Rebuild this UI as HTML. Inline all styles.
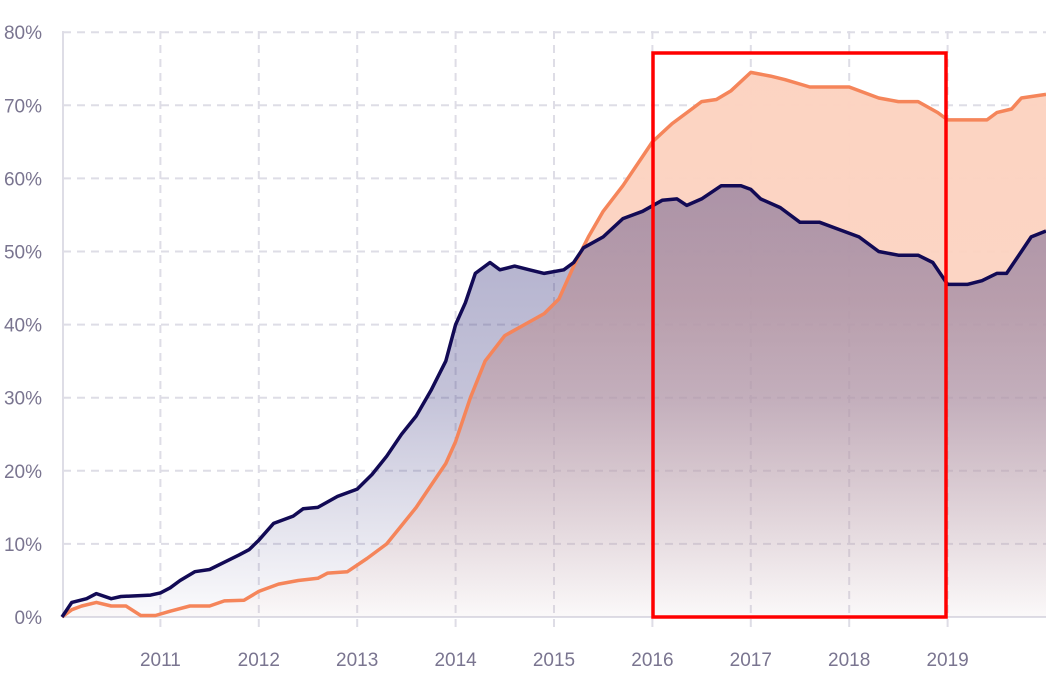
<!DOCTYPE html>
<html><head><meta charset="utf-8"><style>
html,body{margin:0;padding:0;background:#fff;width:1046px;height:691px;overflow:hidden}
svg text{font-family:"Liberation Sans",sans-serif;fill:#7a7590;font-size:19px}
</style></head><body>
<svg id="chart" width="1046" height="691" xmlns="http://www.w3.org/2000/svg">
<defs>
<linearGradient id="gOr" gradientUnits="userSpaceOnUse" x1="0" y1="40" x2="0" y2="617">
<stop offset="0" stop-color="#fcd3c1" stop-opacity="1"/><stop offset="0.45" stop-color="#fcd3c1" stop-opacity="0.95"/><stop offset="1" stop-color="#fcd3c1" stop-opacity="0.05"/></linearGradient>
<linearGradient id="gNv" gradientUnits="userSpaceOnUse" x1="0" y1="180" x2="0" y2="617">
<stop offset="0" stop-color="#3c3880" stop-opacity="0.42"/><stop offset="0.5" stop-color="#3c3880" stop-opacity="0.3"/><stop offset="1" stop-color="#3c3880" stop-opacity="0.02"/></linearGradient>
</defs>
<g id="grid"></g>
<g id="series"></g>
<rect x="653" y="53" width="293" height="564" fill="none" stroke="#ff0000" stroke-width="3.5"/>
</svg>
<script>
const navyX=[2010.0,2010.05,2010.1,2010.25,2010.35,2010.5,2010.6,2010.9,2011.0,2011.1,2011.2,2011.35,2011.5,2011.65,2011.8,2011.9,2012.0,2012.15,2012.35,2012.45,2012.6,2012.8,2013.0,2013.15,2013.3,2013.45,2013.6,2013.75,2013.9,2014.0,2014.1,2014.2,2014.35,2014.45,2014.6,2014.75,2014.9,2015.1,2015.2,2015.3,2015.5,2015.7,2015.9,2016.1,2016.25,2016.35,2016.5,2016.7,2016.9,2017.0,2017.1,2017.3,2017.5,2017.7,2017.9,2018.1,2018.3,2018.5,2018.7,2018.85,2019.0,2019.2,2019.35,2019.5,2019.6,2019.75,2019.85,2020.0];
const navyY=[0,1,2,2.5,3.2,2.5,2.8,3,3.3,4,5,6.2,6.5,7.5,8.5,9.2,10.5,12.8,13.8,14.8,15,16.5,17.5,19.5,22,25,27.5,31,35,40,43,47,48.5,47.5,48,47.5,47,47.5,48.5,50.5,52,54.5,55.5,57,57.2,56.3,57.2,59,59,58.5,57.2,56,54,54,53,52,50,49.5,49.5,48.5,45.5,45.5,46,47,47,50,52,52.8];
const orX=[2010.0,2010.1,2010.2,2010.35,2010.5,2010.65,2010.8,2010.95,2011.1,2011.3,2011.5,2011.65,2011.85,2012.0,2012.2,2012.4,2012.6,2012.7,2012.9,2013.1,2013.3,2013.45,2013.6,2013.75,2013.9,2014.0,2014.15,2014.3,2014.5,2014.7,2014.9,2015.05,2015.2,2015.35,2015.5,2015.7,2015.9,2016.0,2016.2,2016.4,2016.5,2016.65,2016.8,2017.0,2017.2,2017.35,2017.6,2017.8,2018.0,2018.3,2018.5,2018.7,2018.9,2019.0,2019.2,2019.4,2019.5,2019.65,2019.75,2020.0];
const orY=[0,1,1.5,2,1.5,1.5,0.2,0.2,0.8,1.5,1.5,2.2,2.3,3.5,4.5,5,5.3,6,6.2,8,10,12.5,15,18,21,24,30,35,38.5,40,41.5,43.5,48,52,55.5,59,63,65,67.5,69.5,70.5,70.8,72,74.5,74,73.5,72.5,72.5,72.5,71,70.5,70.5,69,68,68,68,69,69.5,71,71.5];
const yTicks=[0,10,20,30,40,50,60,70,80];
const xTicks=[2011,2012,2013,2014,2015,2016,2017,2018,2019];
const NS="http://www.w3.org/2000/svg";
const xS=v=>62+(v-2010)*98.4;
const yS=v=>617-v*7.31;
function mk(tag,attrs,parent){const e=document.createElementNS(NS,tag);for(const k in attrs)e.setAttribute(k,attrs[k]);parent.appendChild(e);return e;}
const grid=document.getElementById('grid'),ser=document.getElementById('series');
yTicks.forEach(t=>{
 const l=mk('line',{x1:63,x2:1046,y1:yS(t),y2:yS(t),stroke:'#dedde6','stroke-width':2,'stroke-dasharray':t===0?'':'8,6'},grid);
 
 
 const tx=mk('text',{x:42,y:yS(t)+7,'text-anchor':'end'},grid);tx.textContent=t+'%';
 
 
});
xTicks.forEach(t=>{
 const l=mk('line',{x1:xS(t),x2:xS(t),y1:31,y2:630,stroke:'#dedde6','stroke-width':2,'stroke-dasharray':'8,6'},grid);
 
 
 const tx=mk('text',{x:xS(t),y:666,'text-anchor':'middle'},grid);tx.textContent=t;
 
 
});
const ax=mk('line',{x1:63,x2:63,y1:31,y2:618,stroke:'#dedde6','stroke-width':2},grid);


function pts(X,Y){return X.map((x,i)=>xS(x).toFixed(1)+','+yS(Y[i]).toFixed(1));}
function area(X,Y,fill,name){const p=pts(X,Y);const a=mk('path',{d:'M'+xS(X[0])+','+yS(0)+' L'+p.join(' L')+' L'+xS(X[X.length-1])+','+yS(0)+' Z',fill:fill},ser);
 
 }
function line(X,Y,col,name){const l=mk('polyline',{points:pts(X,Y).join(' '),fill:'none',stroke:col,'stroke-width':3.5,'stroke-linejoin':'round'},ser);
 
 }
area(orX,orY,'url(#gOr)','orange-area');
area(navyX,navyY,'url(#gNv)','navy-area');
line(orX,orY,'#f5855a','orange-line');
line(navyX,navyY,'#120a55','navy-line');
</script>
</body></html>
